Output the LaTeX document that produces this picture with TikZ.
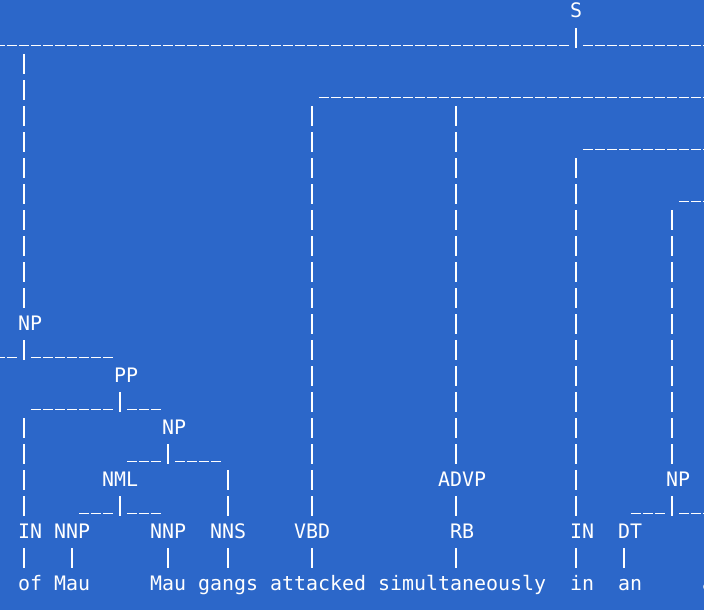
\documentclass[tikz,border=0pt]{standalone}
\usepackage{fontspec}
\newfontfamily\treemono{DejaVu Sans Mono}
\definecolor{bgblue}{RGB}{44,103,201}
\tikzset{
  lbl/.style={font=\treemono\fontsize{19.93}{20}\selectfont, text=white, inner sep=0pt, anchor=base west},
  seg/.style={draw=white, line width=1.5pt},
}
% vertical bar in column #1 from row #2 to row #3
\newcommand{\vseg}[3]{\draw[seg, dash pattern=on 20pt off 6pt] ({12+12*(#1)},{2+26*(#2)}) -- ({12+12*(#1)},{22+26*(#3)});}
% underscore run from column #1 to column #2 in row #3
\newcommand{\hseg}[3]{\draw[seg, dash pattern=on 10.5pt off 1.5pt] ({6.75+12*(#1)},{19.6+26*(#3)}) -- ({17.25+12*(#2)},{19.6+26*(#3)});}
% label: name, column, row, text
\newcommand{\lab}[4]{\node[lbl] (#1) at ({6+12*(#2)},{18+26*(#3)}) {#4};}
\begin{document}
\begin{tikzpicture}[x=1pt,y=-1pt]
\useasboundingbox (0,0) rectangle (704,610);
\fill[bgblue] (0,0) rectangle (704,610);
\clip (0,0) rectangle (704,610);

% labels
\lab{S}{47}{0}{S}
\lab{NPa}{1}{12}{NP}
\lab{PP}{9}{14}{PP}
\lab{NPb}{13}{16}{NP}
\lab{NML}{8}{18}{NML}
\lab{ADVP}{36}{18}{ADVP}
\lab{NPc}{55}{18}{NP}
\lab{INa}{1}{20}{IN}
\lab{NNPa}{4}{20}{NNP}
\lab{NNPb}{12}{20}{NNP}
\lab{NNS}{17}{20}{NNS}
\lab{VBD}{24}{20}{VBD}
\lab{RB}{37}{20}{RB}
\lab{INb}{47}{20}{IN}
\lab{DT}{51}{20}{DT}
\lab{wof}{1}{22}{of}
\lab{wmaua}{4}{22}{Mau}
\lab{wmaub}{12}{22}{Mau}
\lab{wgangs}{16}{22}{gangs}
\lab{watt}{22}{22}{attacked}
\lab{wsim}{31}{22}{simultaneously}
\lab{win}{47}{22}{in}
\lab{wan}{51}{22}{an}
\lab{wnext}{58}{22}{a}

% row 1
\hseg{-1}{46}{1}
\vseg{47}{1}{1}
\hseg{48}{58}{1}
% long verticals
\vseg{1}{2}{11}
\hseg{26}{58}{3}
\vseg{25}{4}{19}
\vseg{37}{4}{17}
\hseg{48}{58}{5}
\vseg{47}{6}{19}
\hseg{56}{58}{7}
\vseg{55}{8}{17}
% NP subtree
\hseg{-1}{0}{13}
\vseg{1}{13}{13}
\hseg{2}{8}{13}
\hseg{2}{8}{15}
\vseg{9}{15}{15}
\hseg{10}{12}{15}
\vseg{1}{16}{19}
\hseg{10}{12}{17}
\vseg{13}{17}{17}
\hseg{14}{17}{17}
\vseg{18}{18}{19}
\hseg{6}{8}{19}
\vseg{9}{19}{19}
\hseg{10}{12}{19}
\vseg{37}{19}{19}
\hseg{52}{54}{19}
\vseg{55}{19}{19}
\hseg{56}{58}{19}
% preterminal bars
\vseg{1}{21}{21}
\vseg{5}{21}{21}
\vseg{13}{21}{21}
\vseg{18}{21}{21}
\vseg{25}{21}{21}
\vseg{37}{21}{21}
\vseg{47}{21}{21}
\vseg{51}{21}{21}
\end{tikzpicture}
\end{document}
